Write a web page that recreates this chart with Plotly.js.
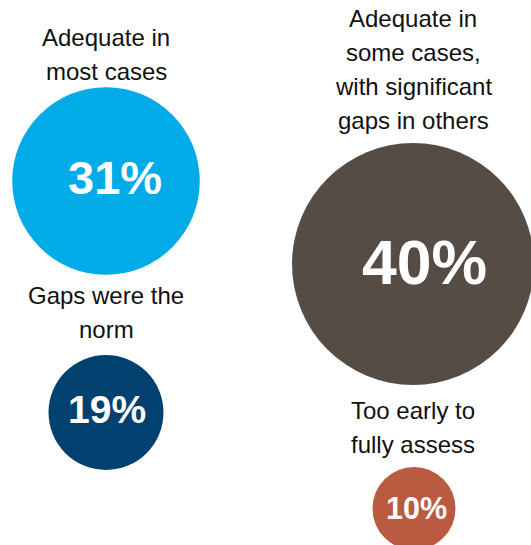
<!DOCTYPE html>
<html>
<head>
<meta charset="utf-8">
<script src="https://cdn.plot.ly/plotly-3.0.1.min.js"></script>
<style>html,body{margin:0;padding:0;background:#fff;}#chart{width:531px;height:545px;}</style>
</head>
<body>
<div id="chart"></div>
<script>
// Data
const categories = [
  "Adequate in<br>most cases",
  "Gaps were the<br>norm",
  "Adequate in<br>some cases,<br>with significant<br>gaps in others",
  "Too early to<br>fully assess"
];
const values = [31, 19, 40, 10];

// Layout / style (pixel coordinates via axes mapped 1:1 to the page)
const colors = ["#00ABE7", "#00416F", "#554C46", "#BA5A40"];
const bubbleX = [106, 106, 413, 414];
const bubbleY = [181, 412.5, 264, 508.5];
const labelX = [106, 106, 413, 413];
const labelTopY = [37, 295, 18, 410];
const lineGap = 34;
const pctX = [115, 107, 424.5, 416];
const pctY = [177, 409.5, 262, 507.5];
const pctFont = [47, 39, 62.5, 30.5];
const pxPerPct = 6.05, minDiameter = 83;

const sizes = values.map(v => Math.max(v * pxPerPct, minDiameter));

const trace = {
  type: "scatter",
  mode: "markers",
  x: bubbleX,
  y: bubbleY,
  marker: {size: sizes, sizemode: "diameter", color: colors, opacity: 1, line: {width: 0}},
  hoverinfo: "skip",
  cliponaxis: true
};

const annotations = [];
categories.forEach((c, i) => {
  c.split("<br>").forEach((line, j) => {
    annotations.push({
      x: labelX[i], y: labelTopY[i] + j * lineGap, xref: "x", yref: "y",
      text: line, showarrow: false, xanchor: "center", yanchor: "middle",
      font: {family: "Liberation Sans, Arial, sans-serif", size: 24, color: "#111111"}
    });
  });
  annotations.push({
    x: pctX[i], y: pctY[i], xref: "x", yref: "y",
    text: "<b>" + values[i] + "%</b>", showarrow: false, xanchor: "center", yanchor: "middle",
    font: {family: "Liberation Sans, Arial, sans-serif", size: pctFont[i], color: "#ffffff"}
  });
});

const layout = {
  width: 531, height: 545,
  margin: {l: 0, r: 0, t: 0, b: 0, pad: 0},
  paper_bgcolor: "#ffffff", plot_bgcolor: "#ffffff",
  showlegend: false,
  xaxis: {range: [0, 531], visible: false, fixedrange: true},
  yaxis: {range: [545, 0], visible: false, fixedrange: true},
  annotations: annotations
};

Plotly.newPlot("chart", [trace], layout, {staticPlot: true, displayModeBar: false});
</script>
</body>
</html>
